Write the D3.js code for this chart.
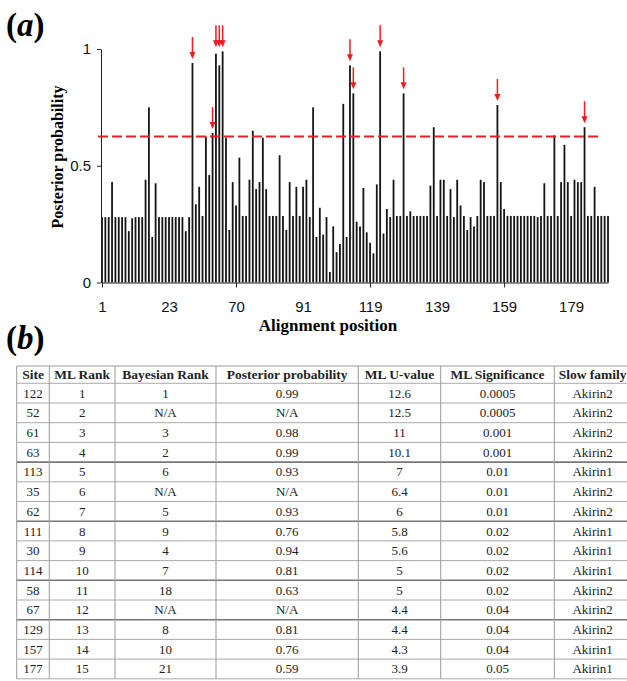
<!DOCTYPE html>
<html>
<head>
<meta charset="utf-8">
<script src="https://cdn.jsdelivr.net/npm/d3@7"></script>
<style>
  body { margin: 0; background: #fff; }
  svg { display: block; font-family: "Liberation Serif", "Times New Roman", serif; }
</style>
</head>
<body>
<svg id="chart" width="627" height="681"></svg>
<script>
'use strict'

// posterior probability for every alignment column
const posterior = [
  0.28, 0.28, 0.28, 0.43, 0.28, 0.28, 0.28, 0.28, 0.22, 0.275,
  0.28, 0.28, 0.28, 0.44, 0.75, 0.195, 0.425, 0.28, 0.28, 0.28,
  0.28, 0.28, 0.28, 0.28, 0.28, 0.22, 0.28, 0.94, 0.335, 0.41,
  0.285, 0.625, 0.46, 0.64, 0.98, 0.93, 0.99, 0.62, 0.225, 0.43,
  0.33, 0.535, 0.285, 0.285, 0.44, 0.65, 0.40, 0.43, 0.62, 0.40,
  0.285, 0.285, 0.285, 0.545, 0.285, 0.225, 0.43, 0.285, 0.41, 0.285,
  0.41, 0.44, 0.28, 0.75, 0.195, 0.32, 0.205, 0.28, 0.045, 0.24,
  0.13, 0.165, 0.765, 0.195, 0.93, 0.81, 0.26, 0.24, 0.405, 0.215,
  0.17, 0.125, 0.42, 0.99, 0.21, 0.315, 0.28, 0.44, 0.285, 0.285,
  0.81, 0.285, 0.305, 0.285, 0.285, 0.285, 0.285, 0.285, 0.415, 0.665,
  0.285, 0.44, 0.44, 0.285, 0.40, 0.28, 0.44, 0.33, 0.285, 0.225,
  0.28, 0.24, 0.285, 0.44, 0.43, 0.285, 0.285, 0.285, 0.76, 0.43,
  0.315, 0.285, 0.285, 0.285, 0.285, 0.285, 0.285, 0.285, 0.285, 0.285,
  0.28, 0.285, 0.425, 0.285, 0.285, 0.63, 0.285, 0.43, 0.59, 0.43,
  0.285, 0.44, 0.43, 0.43, 0.665, 0.285, 0.285, 0.41, 0.285, 0.285,
  0.285, 0.285
]
const xLabelIdx = [0, 20, 40, 60, 80, 100, 120, 140]
const xLabels = ['1', '23', '70', '91', '119', '139', '159', '179']
const xMarkIdx = [0, 40, 80, 120]
const yTicks = [0, 0.5, 1]
const threshold = 0.625
// red arrows; columns in one group share one tip height
const arrowGroups = [[27], [33], [34, 35, 36], [74], [75], [83], [90], [118], [144]]

// panel (b) table columns
const headers = ['Site', 'ML Rank', 'Bayesian Rank', 'Posterior probability', 'ML U-value', 'ML Significance', 'Slow family']
const sites = ['122', '52', '61', '63', '113', '35', '62', '111', '30', '114', '58', '67', '129', '157', '177']
const mlRank = ['1', '2', '3', '4', '5', '6', '7', '8', '9', '10', '11', '12', '13', '14', '15']
const bayesRank = ['1', 'N/A', '3', '2', '6', 'N/A', '5', '9', '4', '7', '18', 'N/A', '8', '10', '21']
const postProb = ['0.99', 'N/A', '0.98', '0.99', '0.93', 'N/A', '0.93', '0.76', '0.94', '0.81', '0.63', 'N/A', '0.81', '0.76', '0.59']
const uValue = ['12.6', '12.5', '11', '10.1', '7', '6.4', '6', '5.8', '5.6', '5', '5', '4.4', '4.4', '4.3', '3.9']
const significance = ['0.0005', '0.0005', '0.001', '0.001', '0.01', '0.01', '0.01', '0.02', '0.02', '0.02', '0.02', '0.04', '0.04', '0.04', '0.05']
const family = ['Akirin2', 'Akirin2', 'Akirin2', 'Akirin2', 'Akirin1', 'Akirin2', 'Akirin2', 'Akirin1', 'Akirin1', 'Akirin1', 'Akirin2', 'Akirin2', 'Akirin2', 'Akirin1', 'Akirin1']
const darkRules = [3, 6, 9, 11] // rows followed by a heavier rule

const svg = d3.select('#chart')
const red = '#ee1d23'

// ---------- panel (a) ----------
const x = d3.scalePoint().domain(d3.range(posterior.length)).range([102, 608])
const y = d3.scaleLinear().domain([0, 1]).range([282.5, 49])

svg.append('text')
  .attr('x', 6).attr('y', 36)
  .style('font-size', '33px').style('font-weight', 'bold')
  .html('(<tspan font-style="italic">a</tspan>)')

// bars
svg.append('g').selectAll('rect')
  .data(posterior)
  .enter().append('rect')
    .attr('x', (d, i) => x(i) - 0.9)
    .attr('y', d => y(d))
    .attr('width', 1.8)
    .attr('height', d => y(0) - y(d))
    .attr('fill', '#151515')

// y axis
const yAxis = svg.append('g')
  .attr('transform', 'translate(101,0)')
  .call(d3.axisLeft(y).tickValues(yTicks).tickFormat(d3.format('')).tickSize(4).tickPadding(6).tickSizeOuter(0))
yAxis.selectAll('text').style('font-size', '15px').style('font-family', null).attr('fill', '#111')
yAxis.selectAll('line, path').attr('stroke', '#222')

// x axis: marks every 40 columns, labels every 20
const xAxis = svg.append('g')
  .attr('transform', 'translate(0,' + y(0) + ')')
  .call(d3.axisBottom(x).tickValues(xMarkIdx).tickFormat('').tickSize(5).tickSizeOuter(0))
xAxis.selectAll('line, path').attr('stroke', '#222')

const xLab = svg.append('g')
  .attr('transform', 'translate(0,' + y(0) + ')')
  .call(d3.axisBottom(x).tickValues(xLabelIdx).tickFormat((d, i) => xLabels[i]).tickSize(0).tickPadding(19))
xLab.select('.domain').remove()
xLab.selectAll('text').style('font-size', '15px').style('font-family', null).attr('fill', '#111')

svg.append('text')
  .attr('x', 328).attr('y', 331)
  .attr('text-anchor', 'middle')
  .style('font-size', '17px').style('font-weight', 'bold')
  .text('Alignment position')

svg.append('text')
  .attr('transform', 'translate(63,157) rotate(-90)')
  .attr('text-anchor', 'middle')
  .style('font-size', '16px').style('font-weight', 'bold')
  .text('Posterior probability')

// threshold
svg.append('line')
  .attr('x1', x(0) - 4).attr('x2', x(149))
  .attr('y1', y(threshold)).attr('y2', y(threshold))
  .attr('stroke', red).attr('stroke-width', 2)
  .attr('stroke-dasharray', '10,4')

// arrows
const arrows = []
arrowGroups.forEach(g => {
  const top = d3.max(g, i => posterior[i])
  g.forEach(i => arrows.push({ i: i, tip: y(top) - 4 }))
})
const arrow = svg.append('g').selectAll('g')
  .data(arrows)
  .enter().append('g')
    .attr('transform', d => 'translate(' + x(d.i) + ',' + d.tip + ')')
arrow.append('line')
  .attr('y1', -22).attr('y2', -6)
  .attr('stroke', red).attr('stroke-width', 1.5)
arrow.append('path')
  .attr('d', 'M-3,-7L3,-7L0,0Z')
  .attr('fill', red)

// ---------- panel (b) ----------
svg.append('text')
  .attr('x', 6).attr('y', 349)
  .style('font-size', '33px').style('font-weight', 'bold')
  .html('(<tspan font-style="italic">b</tspan>)')

const cols = [sites, mlRank, bayesRank, postProb, uValue, significance, family]
const colEdges = [16.7, 49.3, 115, 216, 358.3, 440.7, 554.3, 631]
const headTop = 366
const rowY = d3.scaleLinear().domain([0, sites.length]).range([383.3, 678.8])
const table = svg.append('g')

// rules
table.selectAll('.hrule')
  .data(d3.range(sites.length + 1))
  .enter().append('line')
    .attr('x1', colEdges[0]).attr('x2', colEdges[colEdges.length - 1])
    .attr('y1', d => rowY(d)).attr('y2', d => rowY(d))
    .attr('stroke', d => darkRules.includes(d - 1) ? '#777' : '#aaa')
    .attr('stroke-width', d => darkRules.includes(d - 1) ? 1.6 : 1)
table.append('line')
  .attr('x1', colEdges[0]).attr('x2', colEdges[colEdges.length - 1])
  .attr('y1', headTop).attr('y2', headTop)
  .attr('stroke', '#999')
table.selectAll('.vrule')
  .data(colEdges)
  .enter().append('line')
    .attr('x1', d => d).attr('x2', d => d)
    .attr('y1', headTop).attr('y2', rowY(sites.length))
    .attr('stroke', '#999')

const colMid = d3.range(headers.length).map(c => (colEdges[c] + colEdges[c + 1]) / 2)

table.selectAll('.head')
  .data(headers)
  .enter().append('text')
    .attr('x', (d, c) => colMid[c])
    .attr('y', (headTop + rowY(0)) / 2 + 4.5)
    .attr('text-anchor', 'middle')
    .style('font-size', '13.5px').style('font-weight', 'bold')
    .attr('fill', '#222')
    .text(d => d)

cols.forEach((col, c) => {
  table.selectAll('.c' + c)
    .data(col)
    .enter().append('text')
      .attr('x', colMid[c])
      .attr('y', (d, r) => (rowY(r) + rowY(r + 1)) / 2 + 4.5)
      .attr('text-anchor', 'middle')
      .style('font-size', '13px')
      .attr('fill', '#222')
      .text(d => d)
})
</script>
</body>
</html>
